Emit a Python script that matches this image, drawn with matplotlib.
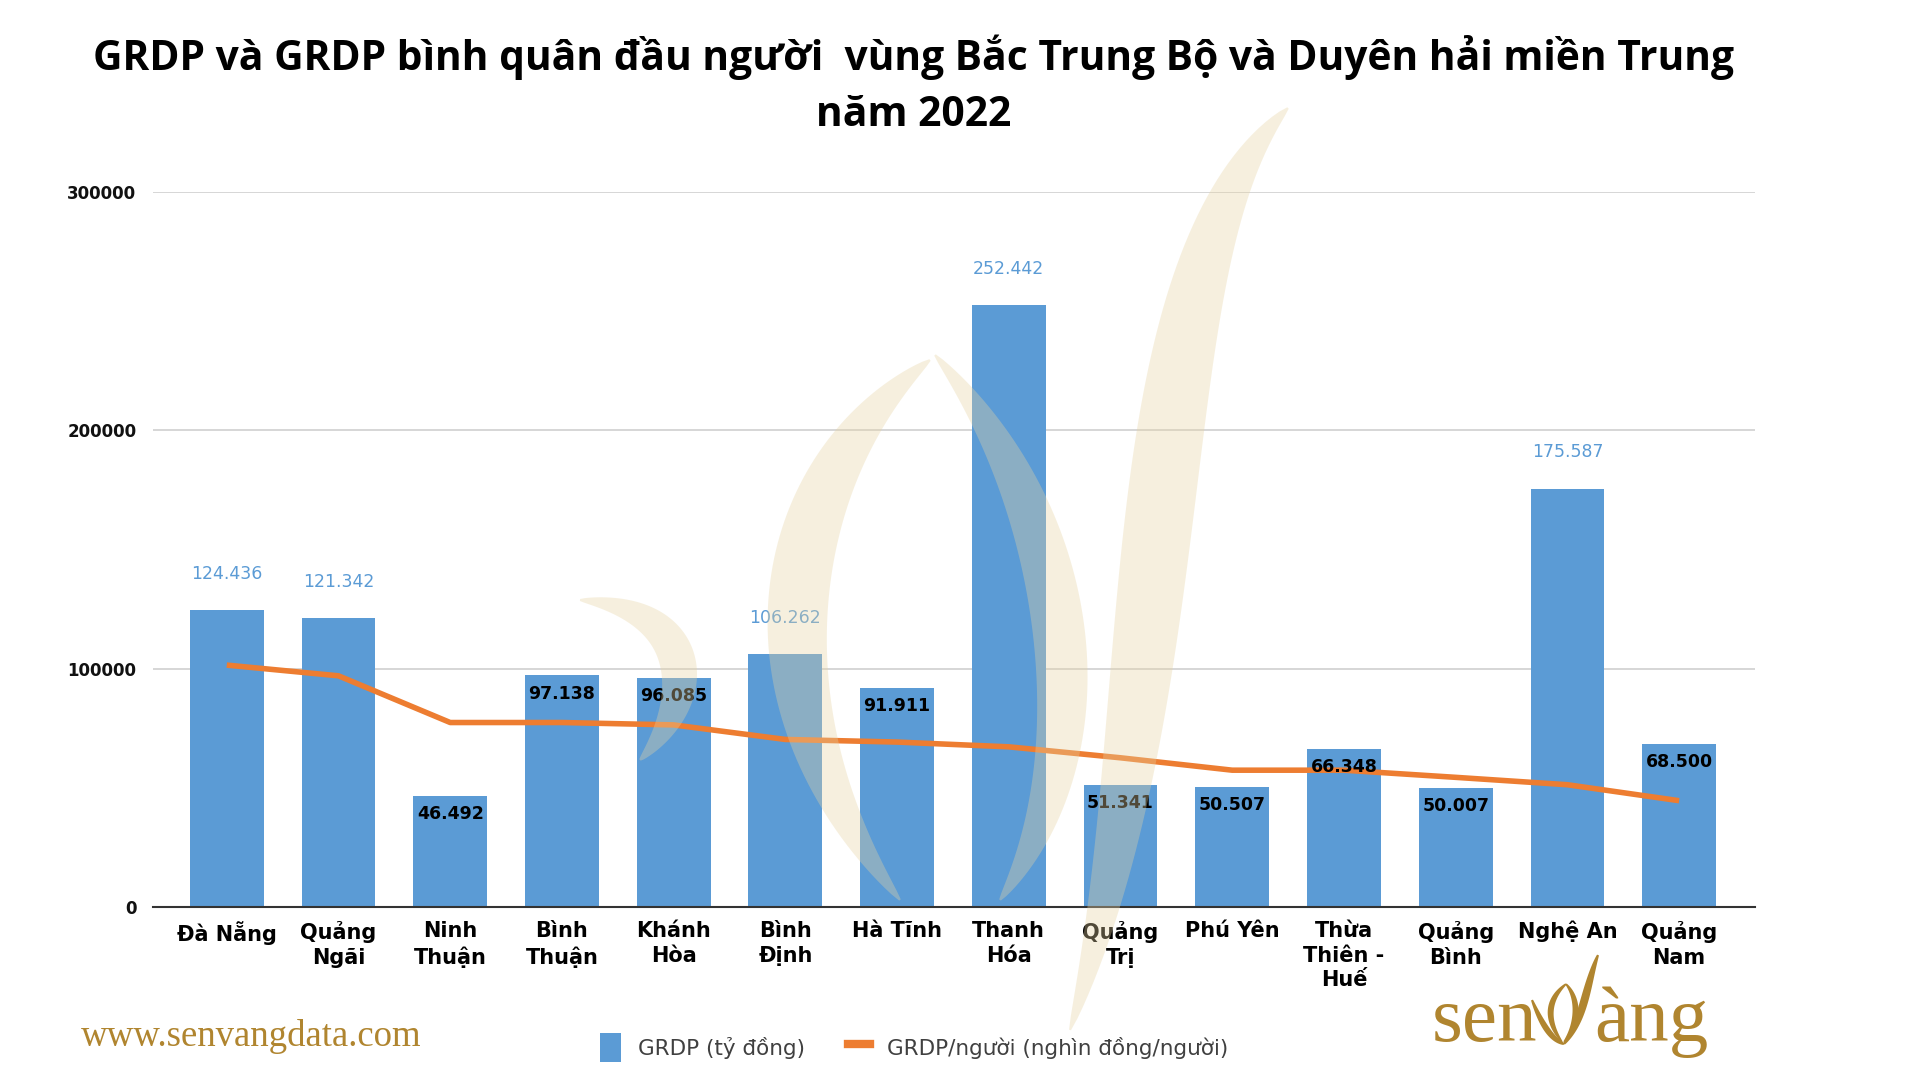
import numpy as np
import matplotlib
matplotlib.use('Agg')
import matplotlib.pyplot as plt
from matplotlib.patches import Patch, Polygon
from matplotlib.lines import Line2D

provinces = ['Đà Nẵng', 'Quảng\nNgãi', 'Ninh\nThuận', 'Bình\nThuận', 'Khánh\nHòa',
             'Bình\nĐịnh', 'Hà Tĩnh', 'Thanh\nHóa', 'Quảng\nTrị', 'Phú Yên',
             'Thừa\nThiên -\nHuế', 'Quảng\nBình', 'Nghệ An', 'Quảng\nNam']
grdp = [124436, 121342, 46492, 97138, 96085, 106262, 91911,
        252442, 51341, 50507, 66348, 50007, 175587, 68500]
grdp_labels = ['124.436', '121.342', '46.492', '97.138', '96.085', '106.262', '91.911',
               '252.442', '51.341', '50.507', '66.348', '50.007', '175.587', '68.500']
label_outside = [True, True, False, False, False, True, False,
                 True, False, False, False, False, True, False]
per_capita = [101500, 97000, 77400, 77400, 76400, 70300, 69200,
              67200, 62600, 57400, 57400, 54400, 51300, 44600]
y_ticks = [0, 100000, 200000, 300000]

BLUE = '#5B9BD5'
ORANGE = '#ED7D31'
GOLD = '#B0852F'

fig = plt.figure(figsize=(19.2, 10.8), dpi=100)
ax = fig.add_axes([0.0797, 0.1602, 0.8344, 0.662])

x = np.arange(len(provinces))
ax.bar(x, grdp, width=0.66, color=BLUE, zorder=2)
ax.plot(x, per_capita, color=ORANGE, linewidth=4, zorder=3, solid_capstyle='butt')

for xi, v, lab, out in zip(x, grdp, grdp_labels, label_outside):
    if out:
        ax.annotate(lab, (xi, v), xytext=(0, 26), textcoords='offset points',
                    ha='center', va='center', color=BLUE, fontsize=12.5)
    else:
        ax.annotate(lab, (xi, v), xytext=(0, -13), textcoords='offset points',
                    ha='center', va='center', color='black', fontsize=12.5,
                    fontweight='bold', zorder=4)

ax.set_xlim(-0.66, len(provinces) - 1 + 0.68)
ax.set_ylim(0, 300000)
ax.set_yticks(y_ticks)
ax.set_yticklabels([str(t) for t in y_ticks], fontsize=12, fontweight='bold', color='#111111')
ax.set_xticks(x)
ax.set_xticklabels(provinces, fontsize=15, fontweight='bold', linespacing=1.3)
ax.tick_params(axis='both', length=0, pad=12)
ax.tick_params(axis='x', pad=10)
ax.yaxis.grid(True, color='#d0d0d0', linewidth=1.2, zorder=0)
ax.set_axisbelow(True)
for s in ['top', 'right', 'left']:
    ax.spines[s].set_visible(False)
ax.spines['bottom'].set_color('#333333')
ax.spines['bottom'].set_linewidth(1.5)
ax.spines['bottom'].set_zorder(5)

fig.text(0.476, 0.947, 'GRDP và GRDP bình quân đầu người  vùng Bắc Trung Bộ và Duyên hải miền Trung',
         ha='center', va='center', fontsize=29.3, fontweight='bold', family='Open Sans')
fig.text(0.476, 0.893, 'năm 2022', ha='center', va='center', fontsize=29.3,
         fontweight='bold', family='Open Sans')


# tapered bezier stroke, given in pixel coordinates of the 1920x1080 figure
def stroke(pts, w0, w1, color='#E6D3A3', alpha=0.35, z=10, n=80):
    p = np.array(pts, dtype=float)
    t = np.linspace(0, 1, n)[:, None]
    c = ((1 - t) ** 3 * p[0] + 3 * (1 - t) ** 2 * t * p[1]
         + 3 * (1 - t) * t ** 2 * p[2] + t ** 3 * p[3])
    d = np.gradient(c, axis=0)
    nrm = np.stack([-d[:, 1], d[:, 0]], axis=1)
    nrm /= np.linalg.norm(nrm, axis=1)[:, None]
    w = (w0 + (w1 - w0) * np.sin(np.pi * t[:, 0]) ** 0.8)[:, None]
    poly = np.vstack([c + nrm * w, (c - nrm * w)[::-1]])
    poly[:, 0] /= 1920
    poly[:, 1] = 1 - poly[:, 1] / 1080
    fig.patches.append(Polygon(poly, closed=True, transform=fig.transFigure,
                               facecolor=color, edgecolor='none', alpha=alpha, zorder=z))


# faint lotus watermark over the plot
stroke([(1288, 108), (1130, 260), (1180, 700), (1070, 1030)], 1, 34)
stroke([(935, 355), (1080, 520), (1100, 760), (1000, 900)], 1, 26)
stroke([(930, 360), (780, 470), (740, 700), (900, 900)], 1, 30)
stroke([(580, 600), (700, 610), (700, 700), (640, 760)], 1, 18)

handles = [Patch(facecolor=BLUE, edgecolor='none'),
           Line2D([0], [0], color=ORANGE, linewidth=6)]
fig.legend(handles, ['GRDP (tỷ đồng)', 'GRDP/người (nghìn đồng/người)'],
           loc='center', bbox_to_anchor=(0.476, 0.030), ncol=2, frameon=False,
           fontsize=15.5, handlelength=1.0, handleheight=1.7, columnspacing=2.0,
           labelcolor='#404040')

fig.text(0.042, 0.040, 'www.senvangdata.com', ha='left', va='center',
         fontsize=26.5, color=GOLD, family='Liberation Serif')

# senVàng logo: text plus a small lotus-bud "V"
fig.text(1537 / 1920, 0.036, 'sen', ha='right', va='baseline', fontsize=57,
         color=GOLD, family='Liberation Serif')
fig.text(1594 / 1920, 0.036, 'àng', ha='left', va='baseline', fontsize=57,
         color=GOLD, family='Liberation Serif')
stroke([(1532, 1000), (1542, 1025), (1552, 1040), (1564, 1044)], 1.0, 3.0, GOLD, 1, 12)
stroke([(1564, 1044), (1584, 1020), (1586, 985), (1598, 955)], 1.0, 4.0, GOLD, 1, 12)
stroke([(1562, 1042), (1544, 1018), (1549, 998), (1566, 984)], 0.8, 3.0, GOLD, 1, 12)
stroke([(1566, 984), (1580, 1000), (1578, 1025), (1564, 1042)], 0.8, 3.0, GOLD, 1, 12)

fig.savefig('out.png', dpi=100, facecolor='white')
